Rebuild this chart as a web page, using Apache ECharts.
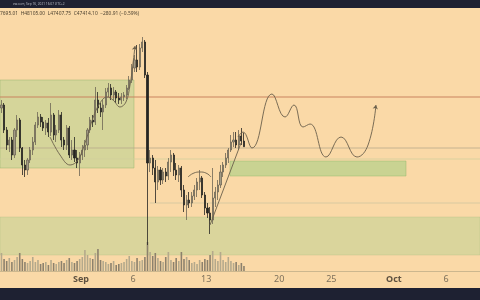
<!DOCTYPE html>
<html><head><meta charset="utf-8">
<script src="https://cdn.jsdelivr.net/npm/echarts@6/dist/echarts.min.js"></script>
<style>html,body{margin:0;padding:0;background:#fad9a7}#c{width:480px;height:300px}</style>
</head><body><div id="c"></div>
<script>
// x unit: days since Sep 1 2021 00:00 (UTC+2); 6h candles starting Aug 24 00:00
const candleStart = -8;
const candleStep = 0.25;
const opens = [
 49750,49350,49500,48250,47500,47750,47000,48250,48750,47350,
 46500,46250,46750,47250,47650,48500,48900,48650,48350,48600,
 48150,49000,48000,48250,49000,47750,47500,48350,47000,47250,
 46850,46600,47000,47250,47500,48250,48750,48650,49750,49350,
 49150,49500,50150,50350,50000,50150,49850,49750,49900,50000,
 50350,50750,51350,51750,51400,52350,52650,51000,46600,46850,
 46350,45650,46250,45750,46150,45950,46650,47000,46250,46000,
 46350,45250,44500,44750,44600,44950,45250,45650,45850,45000,
 44350,44100,43750,44850,45150,45500,46150,46500,46850,47250,
 47650,47750,47500,47950,47695.01];
const closes = [
 49350,49500,48250,47500,47750,47000,48250,48750,47350,46500,
 46250,46750,47250,47650,48500,48900,48650,48350,48600,48150,
 49000,48000,48250,49000,47750,47500,48350,47000,47250,46850,
 46600,47000,47250,47500,48250,48750,48650,49750,49350,49150,
 49500,50150,50350,50000,50150,49850,49750,49900,50000,50350,
 50750,51350,51750,51400,52350,52650,51000,46600,46850,46350,
 45650,46250,45750,46150,45950,46650,47000,46250,46000,46350,
 45250,44500,44750,44600,44950,45250,45650,45850,45000,44350,
 44100,43750,44850,45150,45500,46150,46500,46850,47250,47650,
 47750,47500,47950,47700,47414.10];
const highs = [
 50000,49750,49600,48400,47900,47900,48350,49000,48850,47400,
 46750,46850,47400,47900,48650,49150,49050,48900,48750,48850,
 49600,49100,48500,49250,49150,47900,48500,48450,47750,47900,
 47250,47150,47500,47750,48350,48900,49000,50400,50150,49600,
 49750,50350,50600,50550,50400,50250,50100,50100,50150,50500,
 50950,51550,52000,52500,52550,52900,52750,51150,47250,47000,
 46750,46450,46400,46350,46350,46850,47250,47100,46600,46500,
 46450,45500,45000,45150,45150,45500,45850,46250,45950,45150,
 44600,44400,46350,45400,45750,46500,46650,47100,47350,48000,
 48150,48150,48250,48350,48105.00];
const lows = [
 49150,49100,48100,47250,47150,46750,46850,47900,47150,46000,
 45900,46000,46600,47000,47500,48350,48400,48200,48000,47900,
 47950,47750,47650,48100,47400,47250,47250,46850,46750,46650,
 46350,45950,46750,46900,47250,48100,48400,48500,49100,48900,
 48250,49350,49900,49750,49750,49600,49550,49550,49700,49800,
 50250,50600,51150,51150,51250,52150,50850,42500,46150,46000,
 44600,45250,45500,45550,45650,45750,46150,45950,45750,45650,
 44900,44150,43750,44350,44400,44750,44900,45250,44850,44000,
 43850,43050,43550,44400,44750,45350,45900,46350,46600,47150,
 47400,47350,47250,47500,47407.75];
const volumes = [
 16,18,12,10,13,9,11,14,18,12,
 9,8,10,14,9,11,7,8,9,6,
 11,8,7,9,10,8,11,13,9,8,
 10,12,14,21,16,13,12,18,22,11,
 10,9,7,8,10,6,7,8,9,12,
 15,10,9,13,10,11,14,29,19,15,
 18,13,10,9,14,19,11,9,13,10,
 19,12,14,11,8,9,7,11,9,12,
 11,16,20,12,10,19,11,9,14,10,
 8,9,6,8,5];
const tickDays = [0, 5, 12, 19, 24, 30, 35];
const tickLabels = ['Sep', '6', '13', '20', '25', 'Oct', '6'];
// drawn zones [dayFrom, dayTo, priceLow, priceHigh]
const zoneLeft = [-7.766, 5.08, 46350, 50750];
const zoneRight = [14.29, 31.16, 45950, 46700];
const zoneBottom = [-7.766, 38.255, 42000, 43900];
// horizontal levels and the day each starts
const levelPrices = [49900, 47350, 46800, 44600];
const levelStarts = [-7.766, -7.766, -7.766, 6.6];
// hand-drawn paths
const pathLeftDays = [-2.97,-2.01,-1.05,-0.29,0.48,1.15,1.82,2.49,3.07,3.74,4.31,4.70,4.99,5.18];
const pathLeftPrices = [47900,47000,46500,46750,47750,48850,49600,49900,49750,49400,49650,50500,51600,52450];
const arcDays = [10.26,10.83,11.41,11.98,12.46];
const arcPrices = [45900,46100,46150,46100,45900];
const trendDays = [12.37, 15.34];
const trendPrices = [43500, 47600];
const projDays = [15.05,15.53,16.39,18.31,19.56,20.42,21.28,21.96,23.49,24.93,26.46,27.52,28.28];
const projPrices = [47900,48150,47350,50050,48900,49500,48400,48550,46900,47900,46900,47500,49500];

const X_MIN = -7.766, X_MAX = 38.255;
const times = opens.map((_, i) => candleStart + candleStep * i + candleStep / 2);
const candleData = opens.map((o, i) => [times[i], o, closes[i], lows[i], highs[i]]);
const volData = volumes.map((v, i) => ({
  value: [times[i], v],
  itemStyle: { color: closes[i] >= opens[i] ? '#b4a98c' : '#8c816d' }
}));
const inkColor = '#6b604c';
function pathData(days, prices, arrowRot) {
  return days.map((d, i) => {
    if (arrowRot != null && i === days.length - 1) {
      return { value: [d, prices[i]], symbol: 'arrow', symbolSize: [4, 4], symbolRotate: arrowRot, itemStyle: { color: inkColor } };
    }
    return [d, prices[i]];
  });
}
function zone(z) { return [{ coord: [z[0], z[3]] }, { coord: [z[1], z[2]] }]; }

const chart = echarts.init(document.getElementById('c'), null, { renderer: 'canvas', width: 480, height: 300 });
const levelStyles = [
  { color: '#c9835f', width: 1 },
  { color: '#b7aa8a', width: 0.8 },
  { color: '#d2cf9c', width: 0.8 },
  { color: '#cfc59e', width: 0.8 }
];
const levelSeries = levelPrices.map((p, k) => ({
  type: 'line', xAxisIndex: 0, yAxisIndex: 0, z: 2, silent: true, symbol: 'none',
  data: [[levelStarts[k], p], [X_MAX, p]],
  lineStyle: levelStyles[k]
}));
function pathSeries(days, prices, arrowRot, smooth) {
  return {
    type: 'line', xAxisIndex: 0, yAxisIndex: 0, z: 5, silent: true,
    symbol: 'none', showSymbol: true, smooth: smooth,
    data: pathData(days, prices, arrowRot),
    lineStyle: { color: inkColor, width: 0.9 }
  };
}
chart.setOption({
  animation: false,
  backgroundColor: '#fad9a7',
  grid: [
    { left: 0, right: 0, top: 0, bottom: 29 },
    { left: 0, right: 0, top: 221, bottom: 29 }
  ],
  xAxis: [
    {
      type: 'value', gridIndex: 0, min: X_MIN, max: X_MAX,
      axisLine: { show: true, onZero: false, lineStyle: { color: '#ccb78e', width: 1 } },
      axisTick: { show: false }, splitLine: { show: false },
      axisLabel: {
        customValues: tickDays, margin: 4, fontSize: 9, color: '#7d705b', fontFamily: 'Noto Sans',
        formatter: v => {
          const t = tickLabels[tickDays.indexOf(v)];
          return isNaN(Number(t)) ? '{b|' + t + '}' : t;
        },
        rich: { b: { fontWeight: 'bold', fontSize: 9, color: '#5e5140', fontFamily: 'Noto Sans' } }
      }
    },
    { type: 'value', gridIndex: 1, min: X_MIN, max: X_MAX, show: false }
  ],
  yAxis: [
    { type: 'value', gridIndex: 0, min: 41200, max: 54750, show: false, splitLine: { show: false } },
    { type: 'value', gridIndex: 1, min: 0, max: 50, show: false, splitLine: { show: false } }
  ],
  series: [
    {
      type: 'line', xAxisIndex: 0, yAxisIndex: 0, z: 1, silent: true, data: [], symbol: 'none',
      markArea: {
        silent: true,
        data: [zone(zoneLeft)],
        itemStyle: { color: 'rgba(168,208,140,0.45)', borderColor: 'rgba(150,180,110,0.6)', borderWidth: 0.8 }
      }
    },
    {
      type: 'line', xAxisIndex: 0, yAxisIndex: 0, z: 1, silent: true, data: [], symbol: 'none',
      markArea: {
        silent: true,
        data: [zone(zoneRight)],
        itemStyle: { color: 'rgba(160,205,130,0.55)', borderColor: 'rgba(150,185,110,0.6)', borderWidth: 0.8 }
      }
    },
    {
      type: 'line', xAxisIndex: 0, yAxisIndex: 0, z: 1, silent: true, data: [], symbol: 'none',
      markArea: {
        silent: true,
        data: [zone(zoneBottom)],
        itemStyle: { color: 'rgba(180,208,145,0.45)', borderColor: 'rgba(170,190,130,0.5)', borderWidth: 0.6 }
      }
    },
    ...levelSeries,
    {
      type: 'bar', xAxisIndex: 1, yAxisIndex: 1, z: 3, silent: true, barWidth: 1.6,
      data: volData
    },
    {
      type: 'candlestick', xAxisIndex: 0, yAxisIndex: 0, z: 4, silent: true, barWidth: 1.6,
      encode: { x: 0, y: [1, 2, 3, 4] },
      data: candleData,
      itemStyle: { color: '#a39b86', color0: '#262522', borderColor: '#6d6655', borderColor0: '#262522', borderWidth: 0.8 }
    },
    pathSeries(pathLeftDays, pathLeftPrices, -8, 0.4),
    pathSeries(arcDays, arcPrices, null, 0.5),
    pathSeries(trendDays, trendPrices, null, false),
    pathSeries(projDays, projPrices, -10, 0.45)
  ],
  graphic: [
    { type: 'rect', shape: { x: 0, y: 0, width: 480, height: 8 }, style: { fill: '#1e2132' }, z: 100 },
    { type: 'text', x: 13, y: 4, z: 101, style: { text: 'ew.com, Sep 16, 2021 16:07 UTC+2', fill: '#b9bcc6', fontSize: 3.2, fontFamily: 'Noto Sans', verticalAlign: 'middle' } },
    { type: 'text', x: 0, y: 14, z: 101, style: { text: '7695.01  H48105.00  L47407.75  C47414.10  \u2212280.91 (\u22120.59%)', fill: '#4f4432', fontSize: 4.9, fontFamily: 'Noto Sans', verticalAlign: 'middle' } },
    { type: 'rect', shape: { x: 0, y: 288, width: 480, height: 12 }, style: { fill: '#1e2132' }, z: 100 }
  ]
});
</script>
</body></html>
